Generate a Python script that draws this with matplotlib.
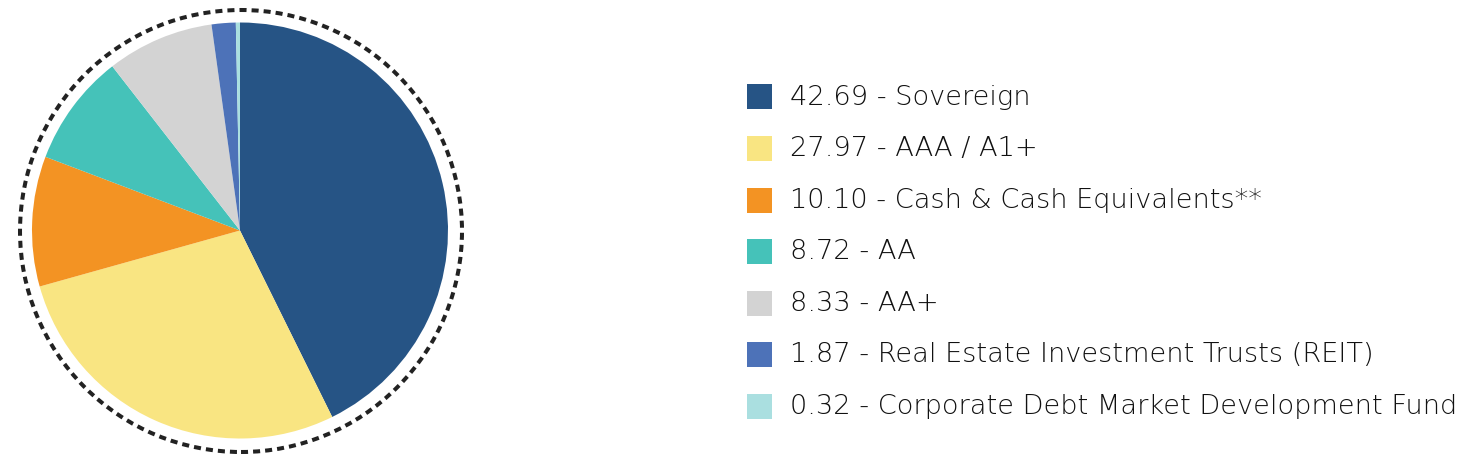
import matplotlib
matplotlib.use("Agg")
import matplotlib.pyplot as plt
from matplotlib.patches import Circle, Rectangle

values = [42.69, 27.97, 10.10, 8.72, 8.33, 1.87, 0.32]
names = ["Sovereign", "AAA / A1+", "Cash & Cash Equivalents**", "AA", "AA+",
         "Real Estate Investment Trusts (REIT)", "Corporate Debt Market Development Fund"]
colors = ["#265485", "#F9E582", "#F39323", "#45C2B9", "#D3D3D3", "#4D72B8", "#AADFE0"]
labels = [f"{v:.2f} - {n}" for v, n in zip(values, names)]

W, H = 1466, 465
fig = plt.figure(figsize=(W / 100, H / 100), dpi=100)

# pie axes in pixel coordinates
ax = fig.add_axes([0, 0, 480 / W, 1])
ax.set_xlim(0, 480)
ax.set_ylim(0, H)
ax.set_aspect("equal")
ax.axis("off")
ax.pie(values, colors=colors, startangle=90, counterclock=False,
       center=(240, H - 230.5), radius=208,
       wedgeprops=dict(linewidth=0))
ax.set_xlim(0, 480)
ax.set_ylim(0, H)
ax.add_patch(Circle((241, H - 231), 221, fill=False, edgecolor="#222222",
                    linewidth=2.9, linestyle=(0, (1.75, 1.25))))

# legend axes
lax = fig.add_axes([0, 0, 1, 1])
lax.set_xlim(0, W)
lax.set_ylim(H, 0)
lax.axis("off")
y0, dy = 97, 51.5
for i, (lab, col) in enumerate(zip(labels, colors)):
    y = y0 + i * dy
    lax.add_patch(Rectangle((747, y - 12.5), 25, 25, facecolor=col, edgecolor="none"))
    lax.text(790, y, lab, fontsize=19.6, color="#111111", va="center", ha="left",
             family="DejaVu Sans", fontweight="light")

fig.savefig("out.png", dpi=100)
